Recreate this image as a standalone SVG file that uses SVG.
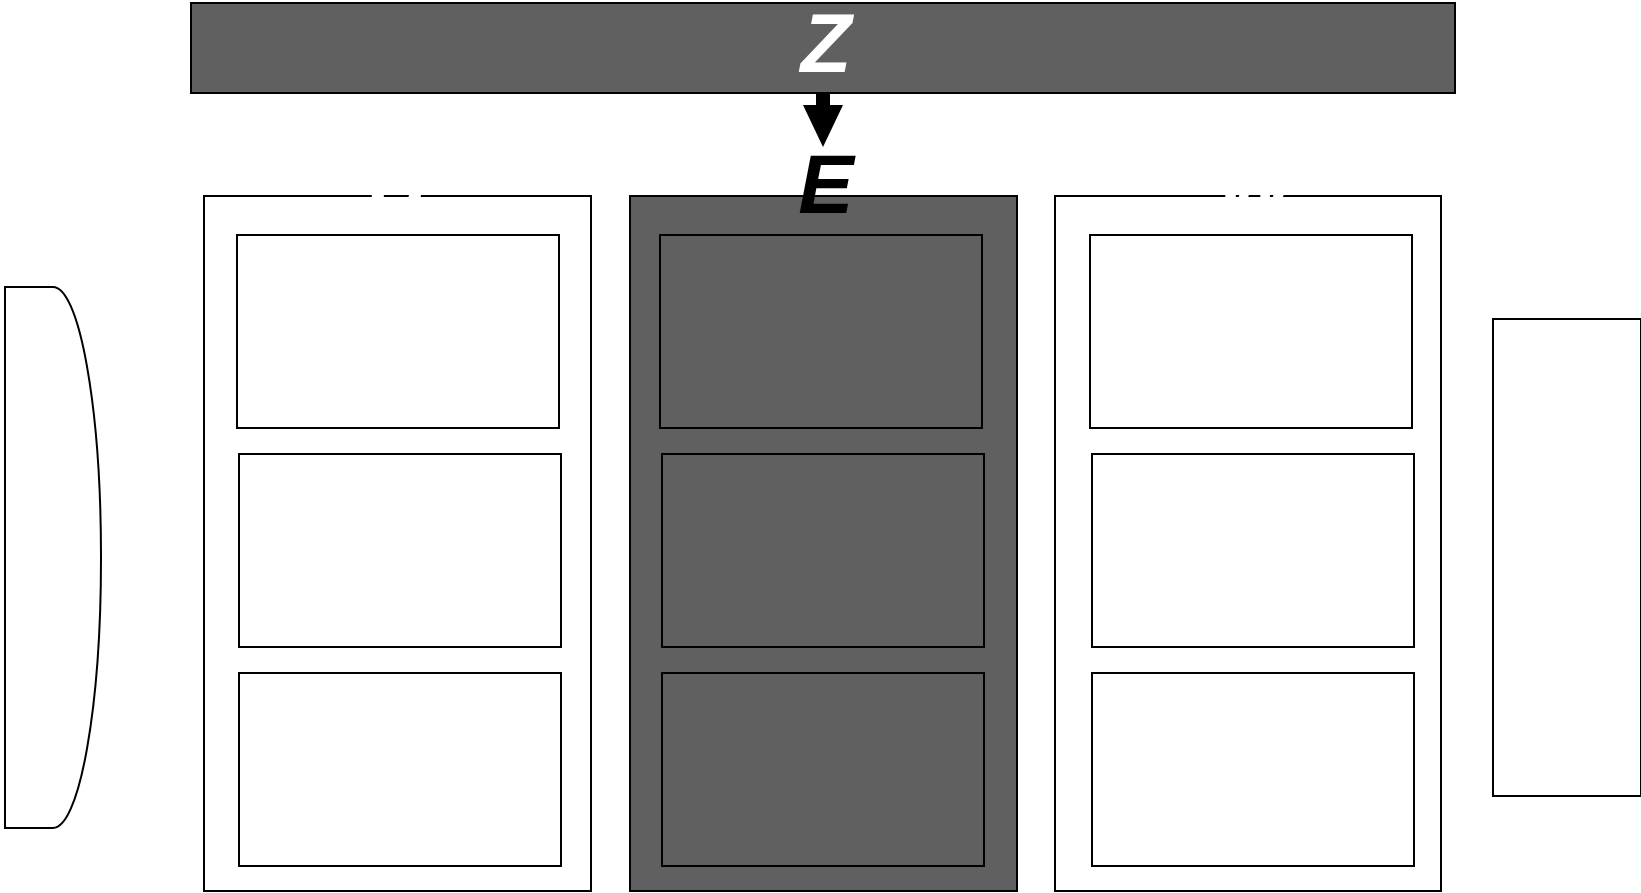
<svg xmlns="http://www.w3.org/2000/svg" width="1641" height="893" viewBox="0 0 1641 893">
<style>
.dark{fill:#606060;stroke:#000;stroke-width:2}
.light{fill:#fff;stroke:#000;stroke-width:2}
.lbl{font-family:"Liberation Sans",Arial,sans-serif;font-weight:bold;font-style:italic;font-size:83px;text-anchor:middle}
</style>
<rect width="1641" height="893" fill="#fff"/>
<g id="left-shape">
<path class="light" d="M5,287 H53 A48,270 0 0 1 101,557 A48,270 0 0 1 53,828 H5 Z"/>
</g>
<g id="right-box">
<rect class="light" x="1493" y="319" width="148" height="477"/>
</g>
<g id="col-left">
<rect class="light" x="204" y="196" width="387" height="695"/>
<rect class="light" x="237" y="235" width="322" height="193"/>
<rect class="light" x="239" y="454" width="322" height="193"/>
<rect class="light" x="239" y="673" width="322" height="193"/>
<text class="lbl" x="397" y="214" fill="#fff">U</text>
</g>
<g id="col-mid">
<rect class="dark" x="630" y="196" width="387" height="695"/>
<rect class="dark" x="660" y="235" width="322" height="193"/>
<rect class="dark" x="662" y="454" width="322" height="193"/>
<rect class="dark" x="662" y="673" width="322" height="193"/>
</g>
<g id="col-right">
<rect class="light" x="1055" y="196" width="386" height="695"/>
<rect class="light" x="1090" y="235" width="322" height="193"/>
<rect class="light" x="1092" y="454" width="322" height="193"/>
<rect class="light" x="1092" y="673" width="322" height="193"/>
<text class="lbl" x="1256" y="214" fill="#fff">W</text>
</g>
<g id="top-bar">
<rect class="dark" x="191" y="3" width="1264" height="90"/>
<text class="lbl" x="826" y="72" fill="#fff">Z</text>
</g>
<g id="connectors">
<rect x="816" y="93" width="14" height="13" fill="#000"/>
<polygon points="803,105 843,105 823,147" fill="#000"/>
</g>
<g id="label-e">
<text class="lbl" x="826" y="213" fill="#000">E</text>
</g>
</svg>
